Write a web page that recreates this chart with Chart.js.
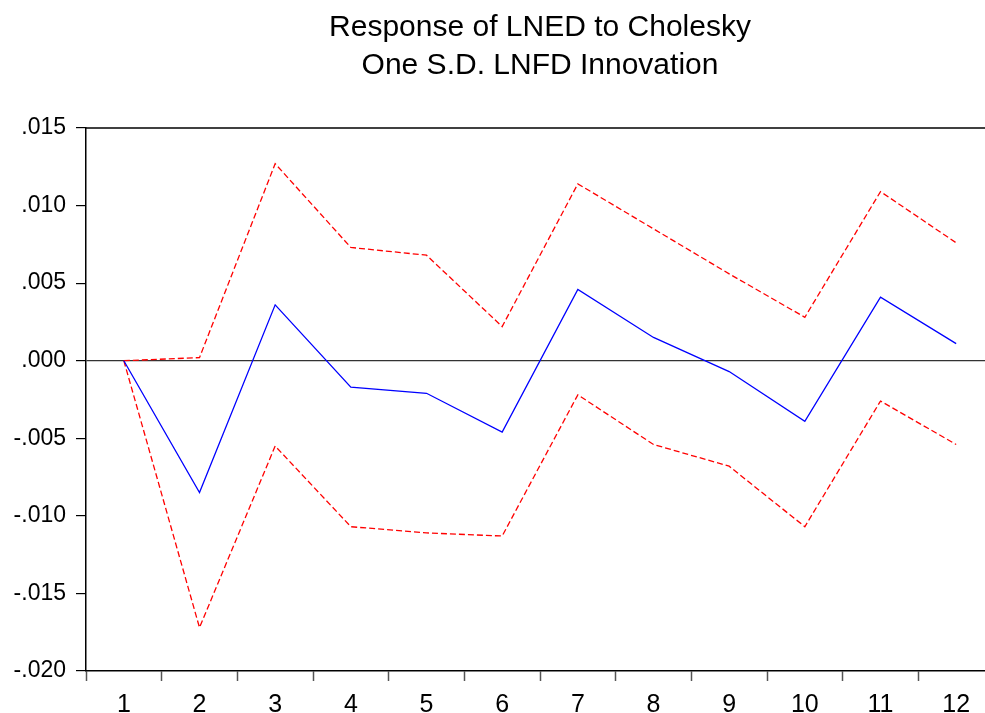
<!DOCTYPE html>
<html>
<head>
<meta charset="utf-8">
<script src="https://cdn.jsdelivr.net/npm/chart.js@4/dist/chart.umd.min.js"></script>
<style>
    html, body { margin: 0; padding: 0; background: #fff; overflow: hidden; }
    #wrap { width: 994px; height: 713px; }
</style>
</head>
<body>
<div id="wrap"><canvas id="irfChart"></canvas></div>
<script>
const periods = ['1', '2', '3', '4', '5', '6', '7', '8', '9', '10', '11', '12'];
const response = [0, -0.0085, 0.0036, -0.0017, -0.0021, -0.0046, 0.0046, 0.0015, -0.0007, -0.0039, 0.0041, 0.0011];
const upperBand = [0, 0.0002, 0.0127, 0.0073, 0.0068, 0.0022, 0.0114, 0.0085, 0.0056, 0.0028, 0.0109, 0.0076];
const lowerBand = [0, -0.0172, -0.0055, -0.0107, -0.0111, -0.0113, -0.0022, -0.0054, -0.0068, -0.0107, -0.0026, -0.0054];
const titleLines = ['Response of LNED to Cholesky', 'One S.D. LNFD Innovation'];

const fontFamily = '"Liberation Sans", Arial, sans-serif';
Chart.defaults.color = '#000';
Chart.defaults.font.family = fontFamily;

// top frame line of the plot area
const topFrame = {
    id: 'topFrame',
    afterDraw(chart) {
        const ctx = chart.ctx;
        const area = chart.chartArea;
        ctx.save();
        ctx.strokeStyle = '#000';
        ctx.lineWidth = 1.5;
        ctx.beginPath();
        ctx.moveTo(area.left, area.top);
        ctx.lineTo(area.right, area.top);
        ctx.stroke();
        ctx.restore();
    }
};

function fmtTick(value) {
    let v = Math.round(value * 1000) / 1000;
    return v.toFixed(3).replace('0.', '.');
}

const ctx = document.getElementById('irfChart');

new Chart(ctx, {
    type: 'line',
    data: {
        labels: periods,
        datasets: [{
            label: 'Response',
            data: response,
            borderColor: '#0000ff',
            borderWidth: 1.3,
            pointRadius: 0,
            tension: 0
        }, {
            label: '+2 S.E.',
            data: upperBand,
            borderColor: '#ff0000',
            borderWidth: 1.3,
            borderDash: [6, 3],
            pointRadius: 0,
            tension: 0
        }, {
            label: '-2 S.E.',
            data: lowerBand,
            borderColor: '#ff0000',
            borderWidth: 1.3,
            borderDash: [6, 3],
            pointRadius: 0,
            tension: 0
        }]
    },
    options: {
        responsive: true,
        maintainAspectRatio: false,
        animation: false,
        layout: { padding: 0 },
        scales: {
            x: {
                type: 'category',
                offset: true,
                grid: {
                    offset: true,
                    drawOnChartArea: false,
                    tickLength: 10,
                    tickColor: '#555',
                    tickWidth: 1.5
                },
                border: { color: '#000', width: 1.5 },
                ticks: {
                    padding: 9,
                    maxRotation: 0,
                    font: { size: 25 }
                },
                afterFit: function (scale) { scale.height = 42; }
            },
            y: {
                min: -0.02,
                max: 0.015,
                grid: {
                    color: function (c) {
                        return (c.tick && Math.abs(c.tick.value) < 1e-9) ? '#333' : 'rgba(0,0,0,0)';
                    },
                    lineWidth: 1.2,
                    tickLength: 10,
                    tickColor: '#000'
                },
                border: { color: '#000', width: 1.5 },
                ticks: {
                    stepSize: 0.005,
                    padding: 10,
                    font: { size: 23 },
                    callback: fmtTick
                },
                afterFit: function (scale) { scale.width = 86; }
            }
        },
        plugins: {
            legend: { display: false },
            tooltip: { enabled: false },
            title: {
                display: true,
                text: titleLines,
                fullSize: false,
                color: '#000',
                font: { size: 30, weight: 'normal', lineHeight: 1.25 },
                padding: { top: 9, bottom: 44 }
            }
        }
    },
    plugins: [topFrame]
});
</script>
</body>
</html>
